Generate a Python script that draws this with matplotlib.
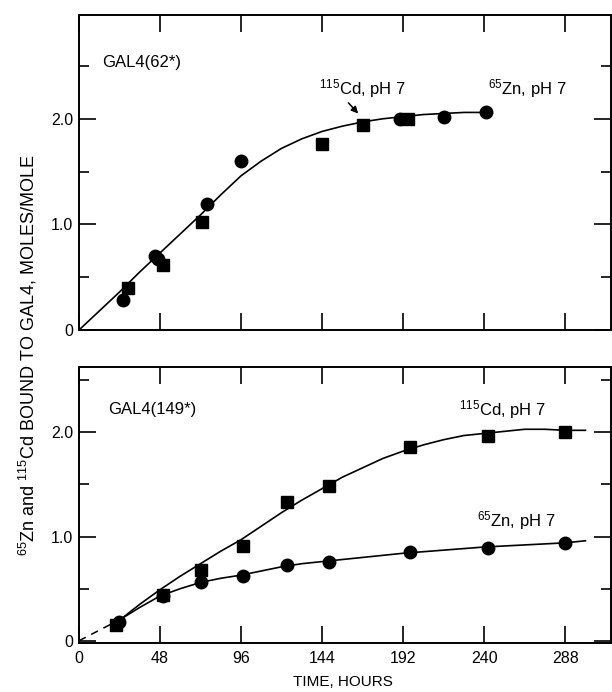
import numpy as np
import matplotlib
matplotlib.use("Agg")
import matplotlib.pyplot as plt

plt.rcParams['font.family'] = ['Liberation Sans', 'DejaVu Sans']
plt.rcParams['mathtext.fontset'] = 'custom'
plt.rcParams['mathtext.rm'] = 'Liberation Sans'
plt.rcParams['mathtext.it'] = 'Liberation Sans:italic'
plt.rcParams['mathtext.bf'] = 'Liberation Sans:bold'

# GAL4(62*) - measured points
top_cd_t = [29, 50, 73, 144, 168, 195]
top_cd_y = [0.40, 0.62, 1.02, 1.76, 1.94, 2.00]
top_zn_t = [26, 45, 47, 76, 96, 190, 216, 241]
top_zn_y = [0.28, 0.70, 0.67, 1.19, 1.60, 2.00, 2.02, 2.06]

# GAL4(62*) - drawn curve
top_curve_t = [0, 12, 24, 36, 48, 60, 72, 84, 96, 108, 120, 132, 144, 156,
               168, 180, 192, 204, 216, 228, 240]
top_curve_y = [0, 0.18, 0.36, 0.55, 0.73, 0.91, 1.09, 1.28, 1.46, 1.60, 1.72,
               1.81, 1.88, 1.93, 1.97, 2.00, 2.02, 2.04, 2.05, 2.06, 2.06]

# GAL4(149*) - measured points
bot_t = [22, 50, 72, 97, 123, 148, 196, 242, 288]
bot_cd_y = [0.15, 0.44, 0.68, 0.91, 1.33, 1.49, 1.86, 1.97, 2.00]
bot_zn_t = [24, 50, 72, 97, 123, 148, 196, 242, 288]
bot_zn_y = [0.18, 0.43, 0.56, 0.62, 0.73, 0.76, 0.85, 0.89, 0.94]

# GAL4(149*) - drawn curves
cd_curve_t = [25, 36, 48, 60, 72, 84, 96, 108, 120, 132, 144, 156, 168, 180,
              192, 204, 216, 228, 240, 252, 264, 276, 288, 300]
cd_curve_y = [0.21, 0.35, 0.49, 0.62, 0.74, 0.86, 0.97, 1.10, 1.23, 1.35,
              1.46, 1.57, 1.66, 1.75, 1.82, 1.88, 1.93, 1.97, 1.99, 2.01,
              2.03, 2.03, 2.02, 2.02]
zn_curve_t = [25, 36, 48, 60, 72, 84, 96, 108, 120, 132, 144, 168, 192, 216,
              240, 264, 288, 300]
zn_curve_y = [0.21, 0.32, 0.43, 0.50, 0.56, 0.60, 0.63, 0.67, 0.71, 0.74,
              0.76, 0.80, 0.84, 0.87, 0.90, 0.92, 0.94, 0.96]
dash_t = [0, 25]
dash_y = [0, 0.21]

xticks = [0, 48, 96, 144, 192, 240, 288]

fig = plt.figure(figsize=(6.12, 6.92), dpi=100)
ax1 = fig.add_axes([0.129, 0.523, 0.869, 0.455])
ax2 = fig.add_axes([0.129, 0.071, 0.869, 0.399])

for ax in (ax1, ax2):
    ax.set_xlim(0, 315)
    ax.set_xticks(xticks)
    ax.set_yticks([0, 1.0, 2.0])
    ax.set_yticklabels(['0', '1.0', '2.0'])
    ax.set_yticks([0.5, 1.5, 2.5], minor=True)
    ax.tick_params(which='both', direction='in', top=True, right=True,
                   width=1.2, labelsize=11.5, color='black')
    ax.tick_params(which='major', length=12)
    ax.tick_params(which='minor', length=7)
    ax.tick_params(axis='y', pad=4)
    ax.tick_params(axis='x', pad=6)
    for s in ax.spines.values():
        s.set_linewidth(1.4)

ax1.set_ylim(0, 2.98)
ax1.tick_params(axis='x', labelbottom=False)
ax1.plot(top_curve_t, top_curve_y, color='black', lw=1.2)
ax1.plot(top_cd_t, top_cd_y, 's', color='black', ms=8.5, clip_on=False)
ax1.plot(top_zn_t, top_zn_y, 'o', color='black', ms=9, clip_on=False)
ax1.text(14, 2.53, 'GAL4(62*)', fontsize=12, va='center')
ax1.text(142, 2.29, r'$^{115}$Cd, pH 7', fontsize=12, va='center')
ax1.text(242, 2.29, r'$^{65}$Zn, pH 7', fontsize=12, va='center')
ax1.annotate('', xy=(166.5, 2.03), xytext=(158.5, 2.17),
             arrowprops=dict(arrowstyle='-|>', color='black', lw=1.1,
                             mutation_scale=10))

ax2.set_ylim(-0.02, 2.63)
ax2.plot(dash_t, dash_y, color='black', lw=1.1, ls=(0, (5, 4)))
ax2.plot(cd_curve_t, cd_curve_y, color='black', lw=1.2)
ax2.plot(zn_curve_t, zn_curve_y, color='black', lw=1.2)
ax2.plot(bot_t, bot_cd_y, 's', color='black', ms=8.5, clip_on=False)
ax2.plot(bot_zn_t, bot_zn_y, 'o', color='black', ms=9, clip_on=False)
ax2.text(17, 2.22, 'GAL4(149*)', fontsize=12, va='center')
ax2.text(225, 2.22, r'$^{115}$Cd, pH 7', fontsize=12, va='center')
ax2.text(236, 1.15, r'$^{65}$Zn, pH 7', fontsize=12, va='center')

fig.text(0.56, 0.015, 'TIME, HOURS', fontsize=11, ha='center', va='center')
fig.text(0.045, 0.487, r'$^{65}$Zn and $^{115}$Cd BOUND TO GAL4, MOLES/MOLE',
         rotation=90, fontsize=13, ha='center', va='center')

fig.savefig('out.png', dpi=100)
